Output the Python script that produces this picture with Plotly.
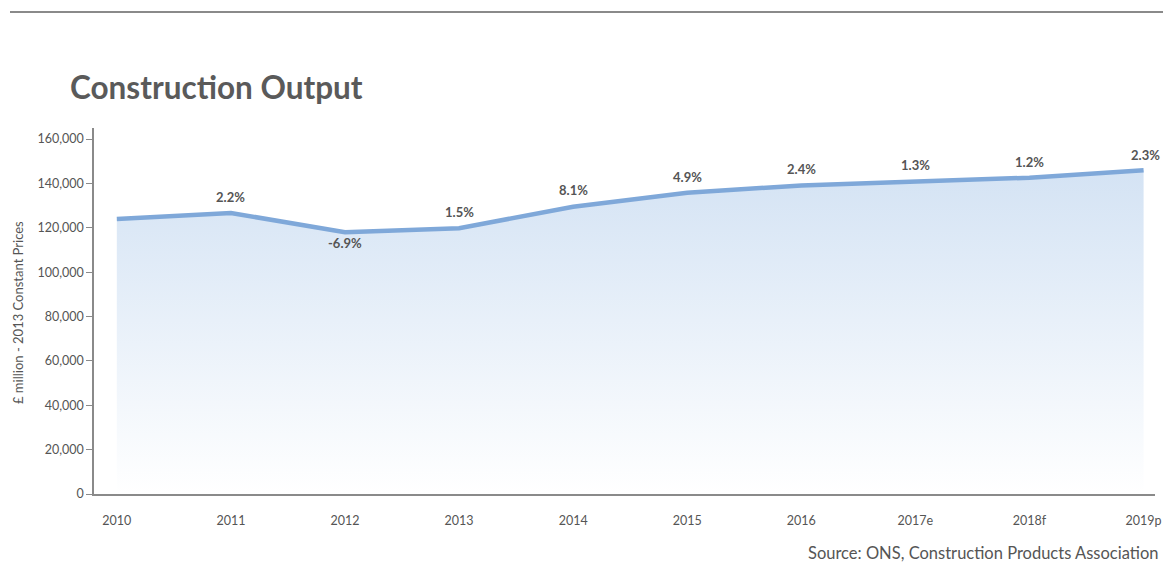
import plotly.graph_objects as go

years = ["2010", "2011", "2012", "2013", "2014", "2015", "2016", "2017e", "2018f", "2019p"]
output = [124000, 126700, 118000, 119800, 129500, 135800, 139100, 140900, 142600, 145900]
growth = ["", "2.2%", "-6.9%", "1.5%", "8.1%", "4.9%", "2.4%", "1.3%", "1.2%", "2.3%"]
label_shift = [0, 16, -11, 16, 17, 16, 16, 16, 16, 15]
label_xshift = [0, 0, 0, 0, 0, 0, 0, 0, 0, 2]

TXT = "#555555"
FONT = "Lato"

L, R, T, B = 94, 1155, 128, 494
W, H = 1163, 564
PW, PH = R - L, B - T

fig = go.Figure()
fig.add_trace(go.Scatter(
    x=years, y=output, mode="lines",
    line=dict(color="#7fa8d9", width=4.5),
    fill="tozeroy",
    fillgradient=dict(type="vertical",
                      colorscale=[[0, "rgba(255,255,255,1)"], [1, "rgba(212,227,244,1)"]]),
    hoverinfo="skip", showlegend=False,
))

for i, (v, g) in enumerate(zip(output, growth)):
    if not g:
        continue
    fig.add_annotation(x=i, y=v, text=g, showarrow=False,
                       yshift=label_shift[i], xshift=label_xshift[i],
                       font=dict(family=FONT, size=13, color=TXT, weight="bold"))

fig.add_annotation(xref="paper", yref="paper", x=(18 - L) / PW, y=(B - 313) / PH,
                   xanchor="center", yanchor="middle",
                   text="£ million - 2013 Constant Prices", textangle=-90,
                   showarrow=False, font=dict(family=FONT, size=13, color=TXT))
fig.add_annotation(xref="paper", yref="paper", x=(1160 - L) / PW, y=(B - 553) / PH,
                   xanchor="right", yanchor="middle",
                   text="Source: ONS, Construction Products Association",
                   showarrow=False, font=dict(family=FONT, size=16.5, color=TXT))

fig.add_shape(type="line", xref="paper", yref="paper",
              x0=(10 - L) / PW, x1=(1163 - L) / PW, y0=(B - 12) / PH, y1=(B - 12) / PH,
              line=dict(color="#8a8a8a", width=2))

fig.update_layout(
    width=W, height=H,
    margin=dict(l=L, r=W - R, t=T, b=H - B, autoexpand=False),
    paper_bgcolor="white", plot_bgcolor="white",
    title=dict(text="<b>Construction Output</b>", x=70 / W, xanchor="left",
               y=1 - 88 / H, yanchor="middle",
               font=dict(family=FONT, size=31.5, color="#5a5a5a")),
    xaxis=dict(type="category", range=[-0.2, 9.1], showgrid=False,
               showline=True, linecolor="#8a8a8a", linewidth=2,
               ticks="", ticklabelstandoff=14, automargin=False,
               tickfont=dict(family=FONT, size=12.5, color=TXT)),
    yaxis=dict(range=[0, 165000], showgrid=False, zeroline=False,
               showline=True, linecolor="#8a8a8a", linewidth=1.5,
               ticks="outside", ticklen=6, tickcolor="#8a8a8a", automargin=False,
               tickvals=[0, 20000, 40000, 60000, 80000, 100000, 120000, 140000, 160000],
               tickformat=",d",
               tickfont=dict(family=FONT, size=12.5, color=TXT)),
)

fig.write_html("out.html", config={"displayModeBar": False},
               post_script="document.body.style.margin='0';")
